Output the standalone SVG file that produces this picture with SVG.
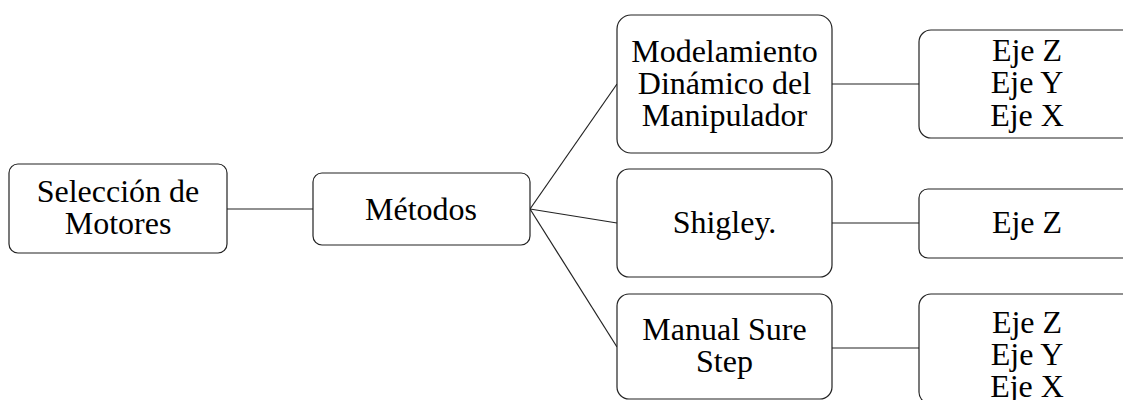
<svg xmlns="http://www.w3.org/2000/svg" width="1123" height="400" viewBox="0 0 1123 400">
<style>
.box{fill:#fff;stroke:#222;stroke-width:1.2}
.c{stroke:#222;stroke-width:1.2;fill:none}
</style>
<rect width="1123" height="400" fill="#fff"/>
<g id="connectors">
<line class="c" x1="227" y1="209" x2="313" y2="209"/>
<line class="c" x1="530" y1="209" x2="617" y2="84"/>
<line class="c" x1="530" y1="209" x2="617" y2="223"/>
<line class="c" x1="530" y1="209" x2="617" y2="347"/>
<line class="c" x1="832" y1="84" x2="919" y2="84"/>
<line class="c" x1="832" y1="223" x2="919" y2="223"/>
<line class="c" x1="832" y1="348" x2="919" y2="348"/>
</g>
<g font-family="Liberation Serif, serif" font-size="32" text-anchor="middle" fill="#000">
<g id="n1">
<rect class="box" x="9" y="164" width="218" height="89" rx="9"/>
<text x="118" y="202">Selección de</text>
<text x="118" y="234">Motores</text>
</g>
<g id="n2">
<rect class="box" x="313" y="173" width="217" height="72" rx="9"/>
<text x="421" y="220">Métodos</text>
</g>
<g id="n3">
<rect class="box" x="617" y="15" width="215" height="138" rx="14"/>
<text x="724.5" y="62">Modelamiento</text>
<text x="724.5" y="94">Dinámico del</text>
<text x="724.5" y="126">Manipulador</text>
</g>
<g id="n4">
<rect class="box" x="617" y="169" width="215" height="108" rx="12"/>
<text x="724.5" y="233">Shigley.</text>
</g>
<g id="n5">
<rect class="box" x="617" y="294" width="215" height="105" rx="12"/>
<text x="724.5" y="340">Manual Sure</text>
<text x="724.5" y="372">Step</text>
</g>
<g id="n6">
<rect class="box" x="919" y="30" width="216" height="108" rx="12"/>
<text x="1027" y="61">Eje Z</text>
<text x="1027" y="93">Eje Y</text>
<text x="1027" y="126">Eje X</text>
</g>
<g id="n7">
<rect class="box" x="919" y="189" width="216" height="69" rx="9"/>
<text x="1027" y="233">Eje Z</text>
</g>
<g id="n8">
<rect class="box" x="919" y="294" width="216" height="110" rx="12"/>
<text x="1027" y="333">Eje Z</text>
<text x="1027" y="365">Eje Y</text>
<text x="1027" y="397">Eje X</text>
</g>
</g>
</svg>
